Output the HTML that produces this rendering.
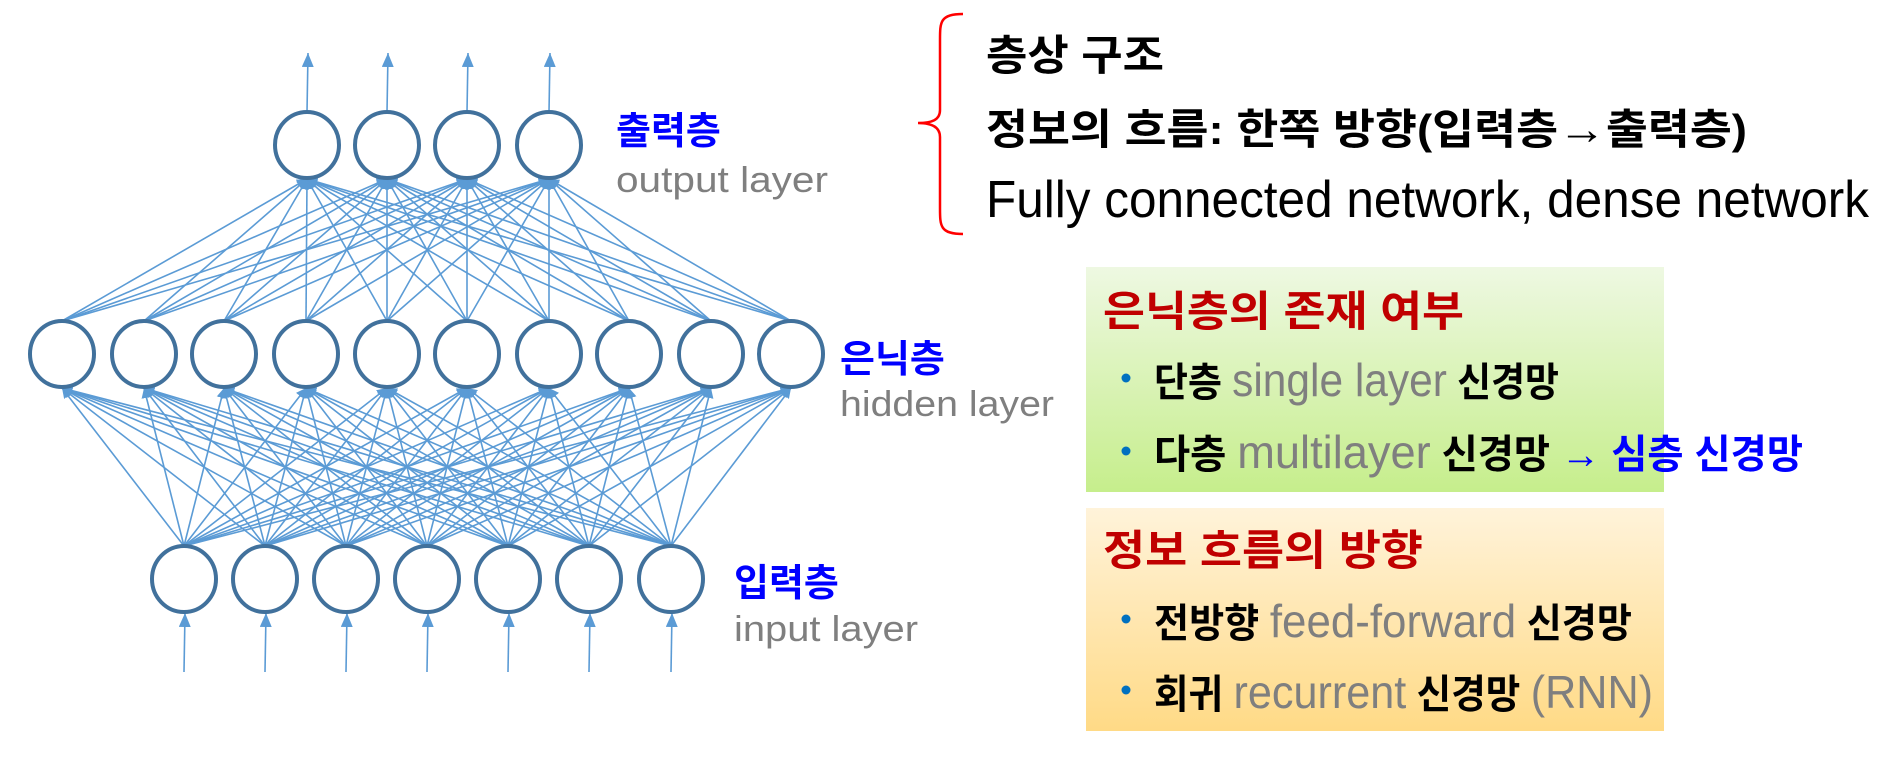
<!DOCTYPE html>
<html><head><meta charset="utf-8"><style>
html,body{margin:0;padding:0;background:#fff;}
svg{display:block;}
text{font-family:"Liberation Sans","Noto Sans CJK KR",sans-serif;}
</style></head><body>
<svg id="s" width="1894" height="758" viewBox="0 0 1894 758" xmlns="http://www.w3.org/2000/svg">
<defs>
<marker id="a" markerUnits="userSpaceOnUse" markerWidth="12" markerHeight="12" refX="10" refY="5" orient="auto"><path d="M0,0 L10,5 L0,10 z" fill="#5b9bd5"/></marker>
<marker id="b" markerUnits="userSpaceOnUse" markerWidth="16" markerHeight="14" refX="14" refY="6" orient="auto"><path d="M0,0 L14,6 L0,12 z" fill="#5b9bd5"/></marker>
<linearGradient id="g1" x1="0" y1="0" x2="0" y2="1"><stop offset="0" stop-color="#eef8e2"/><stop offset="1" stop-color="#c6ee8c"/></linearGradient>
<linearGradient id="g2" x1="0" y1="0" x2="0" y2="1"><stop offset="0" stop-color="#fff3da"/><stop offset="1" stop-color="#ffda86"/></linearGradient>
</defs>
<g id="lines" stroke="#5b9bd5" stroke-width="1.6" fill="none"></g>
<g id="nodes" stroke="#41719c" stroke-width="4" fill="#fff"></g>

<text x="616" y="144" font-size="38" font-weight="bold" fill="#0000ff">출력층</text>
<text x="616" y="192" font-size="36" fill="#7f7f7f" textLength="212" lengthAdjust="spacingAndGlyphs">output layer</text>
<text x="840" y="372" font-size="38" font-weight="bold" fill="#0000ff">은닉층</text>
<text x="840" y="416" font-size="36" fill="#7f7f7f" textLength="214" lengthAdjust="spacingAndGlyphs">hidden layer</text>
<text x="734" y="596" font-size="38" font-weight="bold" fill="#0000ff">입력층</text>
<text x="734" y="641" font-size="36" fill="#7f7f7f" textLength="184" lengthAdjust="spacingAndGlyphs">input layer</text>

<path d="M963,14 C940,14 940,22 940,40 L940,110 C940,120 932,123 918,123 C932,123 940,127 940,137 L940,208 C940,226 940,234 963,234" stroke="#ff0000" stroke-width="2.5" fill="none"/>
<text x="986" y="70" font-size="42" font-weight="bold" fill="#000" textLength="178" lengthAdjust="spacingAndGlyphs">층상 구조</text>
<text x="986" y="144" font-size="42" font-weight="bold" fill="#000" textLength="761" lengthAdjust="spacingAndGlyphs">정보의 흐름: 한쪽 방향(입력층<tspan font-size="44">→</tspan>출력층)</text>
<text x="986" y="217" font-size="52" fill="#000" textLength="883" lengthAdjust="spacingAndGlyphs">Fully connected network, dense network</text>

<rect x="1086" y="267" width="578" height="225" fill="url(#g1)"/>
<rect x="1086" y="508" width="578" height="223" fill="url(#g2)"/>
<text x="1103" y="326" font-size="42" font-weight="bold" fill="#c00000" textLength="361" lengthAdjust="spacingAndGlyphs">은닉층의 존재 여부</text>
<circle cx="1126" cy="378" r="4.5" fill="#0070c0"/>
<text x="1154" y="396" font-size="40" font-weight="bold" fill="#000" textLength="405" lengthAdjust="spacingAndGlyphs">단층 <tspan fill="#7f7f7f" font-weight="normal" font-size="46">single layer</tspan> 신경망</text>
<circle cx="1126" cy="451" r="4.5" fill="#0070c0"/>
<text x="1154" y="468" font-size="40" font-weight="bold" fill="#000" textLength="649" lengthAdjust="spacingAndGlyphs">다층 <tspan fill="#7f7f7f" font-weight="normal" font-size="46">multilayer</tspan> 신경망 <tspan fill="#0000ff" font-weight="normal">→ </tspan><tspan fill="#0000ff">심층 신경망</tspan></text>
<text x="1103" y="565" font-size="42" font-weight="bold" fill="#c00000" textLength="320" lengthAdjust="spacingAndGlyphs">정보 흐름의 방향</text>
<circle cx="1126" cy="619" r="4.5" fill="#0070c0"/>
<text x="1154" y="637" font-size="40" font-weight="bold" fill="#000" textLength="478" lengthAdjust="spacingAndGlyphs">전방향 <tspan fill="#7f7f7f" font-weight="normal" font-size="46">feed-forward</tspan> 신경망</text>
<circle cx="1126" cy="690" r="4.5" fill="#0070c0"/>
<text x="1154" y="708" font-size="40" font-weight="bold" fill="#000" textLength="499" lengthAdjust="spacingAndGlyphs">회귀 <tspan fill="#7f7f7f" font-weight="normal" font-size="46">recurrent</tspan> 신경망 <tspan fill="#7f7f7f" font-weight="normal" font-size="46">(RNN)</tspan></text>
</svg>
<script>
(function(){
var NS="http://www.w3.org/2000/svg";
var L=document.getElementById('lines'),N=document.getElementById('nodes');
var out=[307,387,467,549],hid=[62,144,224,306,387,467,549,629,711,791],inp=[184,265,346,427,508,589,671];
var yo=145,yh=354,yi=579,rx=32,ry=33;
function ln(x1,y1,x2,y2,m){var l=document.createElementNS(NS,'line');l.setAttribute('x1',x1);l.setAttribute('y1',y1);l.setAttribute('x2',x2);l.setAttribute('y2',y2);l.setAttribute('marker-end','url(#'+(m||'a')+')');L.appendChild(l);}
function nd(x,y){var e=document.createElementNS(NS,'ellipse');e.setAttribute('cx',x);e.setAttribute('cy',y);e.setAttribute('rx',rx);e.setAttribute('ry',ry);N.appendChild(e);}
inp.forEach(function(a){hid.forEach(function(b){ln(a,yi-ry,b,yh+ry+1);});});
hid.forEach(function(a){out.forEach(function(b){ln(a,yh-ry,b,yo+ry+1);});});
out.forEach(function(a){ln(a,yo-ry,a+1,53,'b');});
inp.forEach(function(a){ln(a,672,a+1,yi+ry+1,'b');});
out.forEach(function(x){nd(x,yo);});hid.forEach(function(x){nd(x,yh);});inp.forEach(function(x){nd(x,yi);});
})();
</script>
</body></html>
